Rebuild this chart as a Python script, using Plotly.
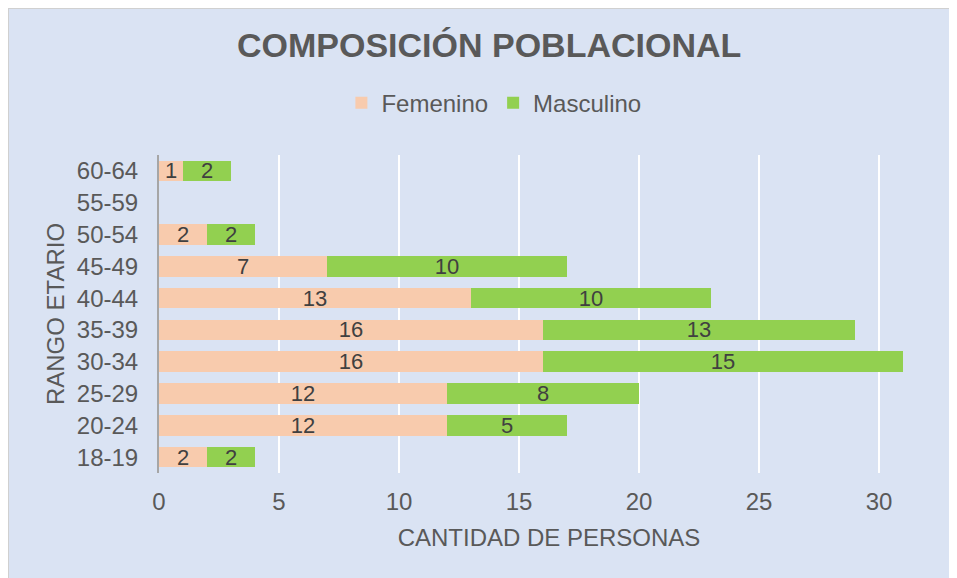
import plotly.graph_objects as go

# age ranges, bottom to top
rangos = ["18-19", "20-24", "25-29", "30-34", "35-39", "40-44",
          "45-49", "50-54", "55-59", "60-64"]
femenino = [2, 12, 12, 16, 16, 13, 7, 2, None, 1]
masculino = [2, 5, 8, 15, 13, 10, 10, 2, None, 2]
x_ticks = [0, 5, 10, 15, 20, 25, 30]

FONT = "Liberation Sans, Arial, sans-serif"
GRIS = "#595959"
FONDO = "#DAE3F3"
SZ = 24

# page body has an 8px margin, so the figure is 8px smaller than the window
W, H = 949, 570
ML, MR, MT, MB = 151, 18, 147, 105
PW, PH = W - ML - MR, H - MT - MB

fig = go.Figure()
fig.add_trace(go.Bar(y=rangos, x=femenino, name="Femenino", orientation="h",
                     marker=dict(color="#F8CBAD", line=dict(width=0)),
                     text=femenino, textposition="inside", insidetextanchor="middle",
                     textangle=0,
                     textfont=dict(size=22, color="#404040", family=FONT)))
fig.add_trace(go.Bar(y=rangos, x=masculino, name="Masculino", orientation="h",
                     marker=dict(color="#92D050", line=dict(width=0)),
                     text=masculino, textposition="inside", insidetextanchor="middle",
                     textangle=0,
                     textfont=dict(size=22, color="#404040", family=FONT)))

fig.update_layout(
    width=W, height=H,
    barmode="stack", bargap=0.35,
    paper_bgcolor=FONDO, plot_bgcolor=FONDO,
    margin=dict(l=ML, r=MR, t=MT, b=MB),
    font=dict(family=FONT, color=GRIS, size=SZ),
    uniformtext=dict(minsize=22, mode="show"),
    title=dict(text="<b>COMPOSICIÓN POBLACIONAL</b>", x=0.507, xref="container",
               xanchor="center", y=0.935, yanchor="middle",
               font=dict(size=34, color=GRIS, family=FONT)),
    legend=dict(orientation="h", x=0.512, xref="container", xanchor="center",
                y=0.833, yref="container", yanchor="middle",
                font=dict(size=SZ, color=GRIS), bgcolor="rgba(0,0,0,0)",
                itemwidth=30, traceorder="normal"),
    xaxis=dict(range=[0, 32.5], tickvals=x_ticks, showgrid=True, gridcolor="white",
               gridwidth=2, zeroline=False, showline=False, automargin=False,
               ticks="", ticklabelstandoff=12, tickfont=dict(size=SZ, color=GRIS),
               title=dict(text="CANTIDAD DE PERSONAS", standoff=15,
                          font=dict(size=SZ, color=GRIS))),
    yaxis=dict(showgrid=False, showline=True, linecolor="#A6A6A6", linewidth=2,
               automargin=False,
               ticks="", ticklabelstandoff=14, tickfont=dict(size=SZ, color=GRIS),
               title=dict(text="RANGO ETARIO", standoff=5,
                          font=dict(size=SZ, color=GRIS))),
    shapes=[
        # thin frame along the top and left edge of the chart
        dict(type="line", xref="paper", yref="paper",
             x0=-ML / PW, x1=1 + MR / PW, y0=1 + MT / PH, y1=1 + MT / PH,
             line=dict(color="#D0D0D0", width=2)),
        dict(type="line", xref="paper", yref="paper",
             x0=-ML / PW, x1=-ML / PW, y0=-MB / PH, y1=1 + MT / PH,
             line=dict(color="#D0D0D0", width=2)),
    ],
)

fig.write_html("out.html")
